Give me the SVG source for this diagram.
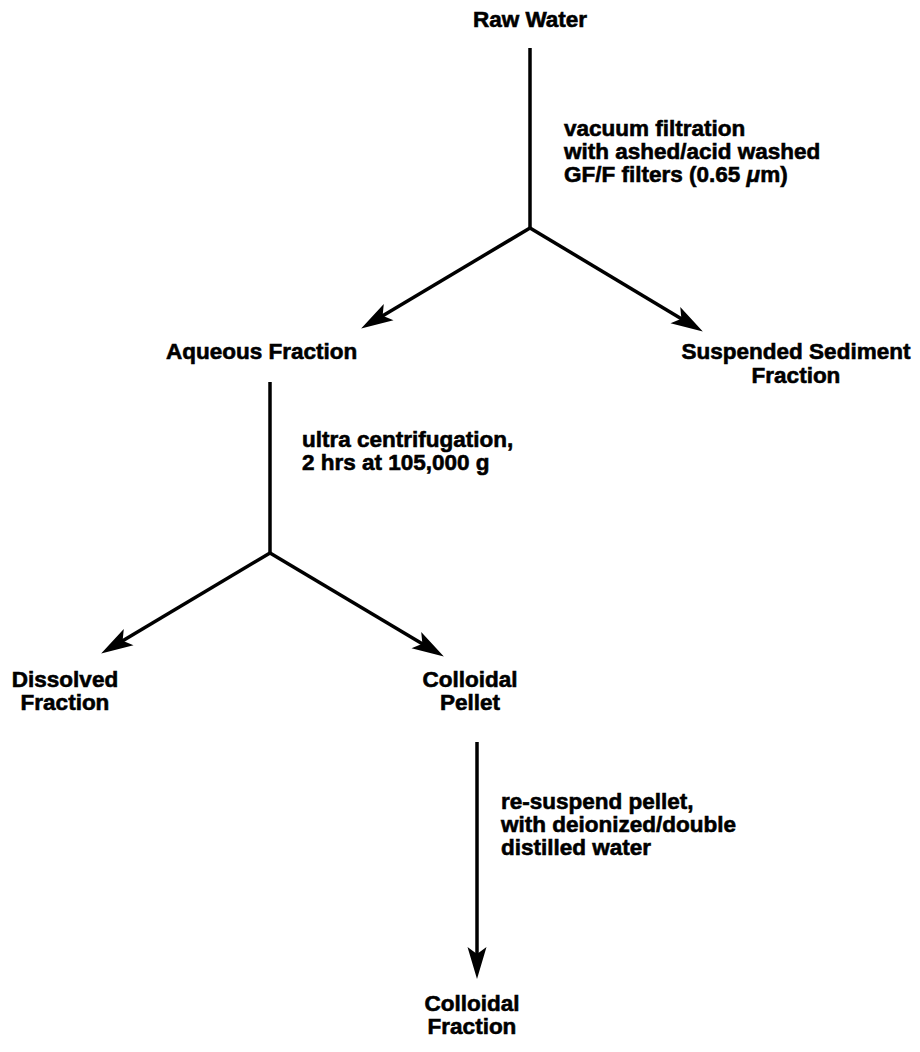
<svg xmlns="http://www.w3.org/2000/svg" width="920" height="1052" viewBox="0 0 920 1052">
<style>
.t{font-family:"Liberation Sans",Arial,sans-serif;font-weight:bold;font-size:22.5px;fill:#000;stroke:#000;stroke-width:0.6}
.m{text-anchor:middle}
.c{stroke:#000;stroke-width:3.5;fill:none}
</style>
<defs>
<marker id="ah" markerUnits="userSpaceOnUse" markerWidth="34" markerHeight="22" viewBox="0 0 34 22" refX="21" refY="11" orient="auto">
<path d="M0,1.5 L32,11 L0,20.5 L7,11 Z" fill="#000"/>
</marker>
</defs>
<rect width="920" height="1052" fill="#fff"/>
<g id="connectors">
<path class="c" d="M530,48 L530,228"/>
<path class="c" d="M530,228 L370.6,322.9" marker-end="url(#ah)"/>
<path class="c" d="M530,228 L693.4,325.9" marker-end="url(#ah)"/>
<path class="c" d="M270,382 L270,553"/>
<path class="c" d="M270,553 L110.6,647.9" marker-end="url(#ah)"/>
<path class="c" d="M270,553 L434.4,650.9" marker-end="url(#ah)"/>
<path class="c" d="M477,742 L477,968" marker-end="url(#ah)"/>
</g>
<g id="label-filtration">
<text class="t" x="564" y="136">vacuum filtration</text>
<text class="t" x="564" y="159">with ashed/acid washed</text>
<text class="t" x="564" y="182">GF/F filters (0.65 <tspan font-style="italic">μ</tspan>m)</text>
</g>
<g id="label-centrifugation">
<text class="t" x="302" y="447">ultra centrifugation,</text>
<text class="t" x="302" y="470">2 hrs at 105,000 g</text>
</g>
<g id="label-resuspend">
<text class="t" x="501" y="809">re-suspend pellet,</text>
<text class="t" x="501" y="832">with deionized/double</text>
<text class="t" x="501" y="855">distilled water</text>
</g>
<g id="node-raw-water">
<text class="t m" x="530" y="27">Raw Water</text>
</g>
<g id="node-aqueous">
<text class="t" x="166" y="359">Aqueous Fraction</text>
</g>
<g id="node-suspended">
<text class="t m" x="796" y="359">Suspended Sediment</text>
<text class="t m" x="796" y="383">Fraction</text>
</g>
<g id="node-dissolved">
<text class="t m" x="65" y="687">Dissolved</text>
<text class="t m" x="65" y="710">Fraction</text>
</g>
<g id="node-pellet">
<text class="t m" x="470" y="687">Colloidal</text>
<text class="t m" x="470" y="710">Pellet</text>
</g>
<g id="node-colloidal-fraction">
<text class="t m" x="472" y="1011">Colloidal</text>
<text class="t m" x="472" y="1034">Fraction</text>
</g>
</svg>
